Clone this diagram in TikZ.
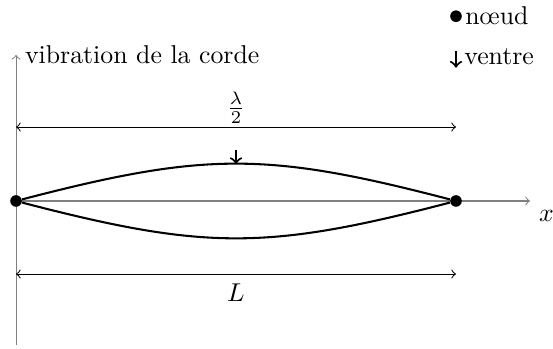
\documentclass[tikz,border=0pt]{standalone}
\usepackage{tikz}
\usetikzlibrary{positioning}
\definecolor{cordegray}{HTML}{808080}

\begin{document}
\begin{tikzpicture}[x=0.6cm,y=0.6cm,
  noeud/.style={circle,fill,inner sep=0pt,minimum size=4.5pt},
  axe/.style={->,cordegray},
  cote/.style={<->},
  corde/.style={thick},
  ventrefl/.style={->,thick}]
\useasboundingbox (-0.364,-3.364) rectangle (12.205,4.568);
\coordinate (o) at (0,0);
\coordinate (ybas) at (0,-3.27);
\coordinate (yhaut) at (0,3.32);
\coordinate (xfin) at (11.68,0);
\draw[axe] (ybas) -- (yhaut) node[right,text=black] (ylab) {vibration de la corde};
\draw[axe] (o) -- (xfin) node[below right,text=black] (xlab) {$x$};
\node[noeud] (n1) at (0,0) {};
\node[noeud] (n2) at (10,0) {};
\draw[corde] (n1) .. controls (4.3,1.12) and (5.7,1.12) .. (n2);
\draw[corde] (n1) .. controls (4.3,-1.12) and (5.7,-1.12) .. (n2);
\coordinate (vhaut) at (5,1.16);
\coordinate (vbas) at (5,0.84);
\draw[ventrefl] (vhaut) -- (vbas);
\coordinate (la) at (0,1.68);
\coordinate (lb) at (10,1.68);
\draw[cote] (la) -- (lb);
\node (lambda) at (5,2.11) {$\frac{\lambda}{2}$};
\coordinate (ha) at (0,-1.66);
\coordinate (hb) at (10,-1.66);
\draw[cote] (ha) -- (hb);
\node (long) at (5,-2.09) {$L$};
\node[noeud] (leg1) at (10,4.2) {};
\node[anchor=west,inner sep=1pt] (legt1) at (leg1.east) {nœud};
\coordinate (leg2h) at (10,3.4);
\coordinate (leg2b) at (10,3.03);
\draw[ventrefl] (leg2h) -- (leg2b);
\node[anchor=west,inner sep=1pt] (legt2) at (10.12,3.27) {ventre};
\end{tikzpicture}
\end{document}
